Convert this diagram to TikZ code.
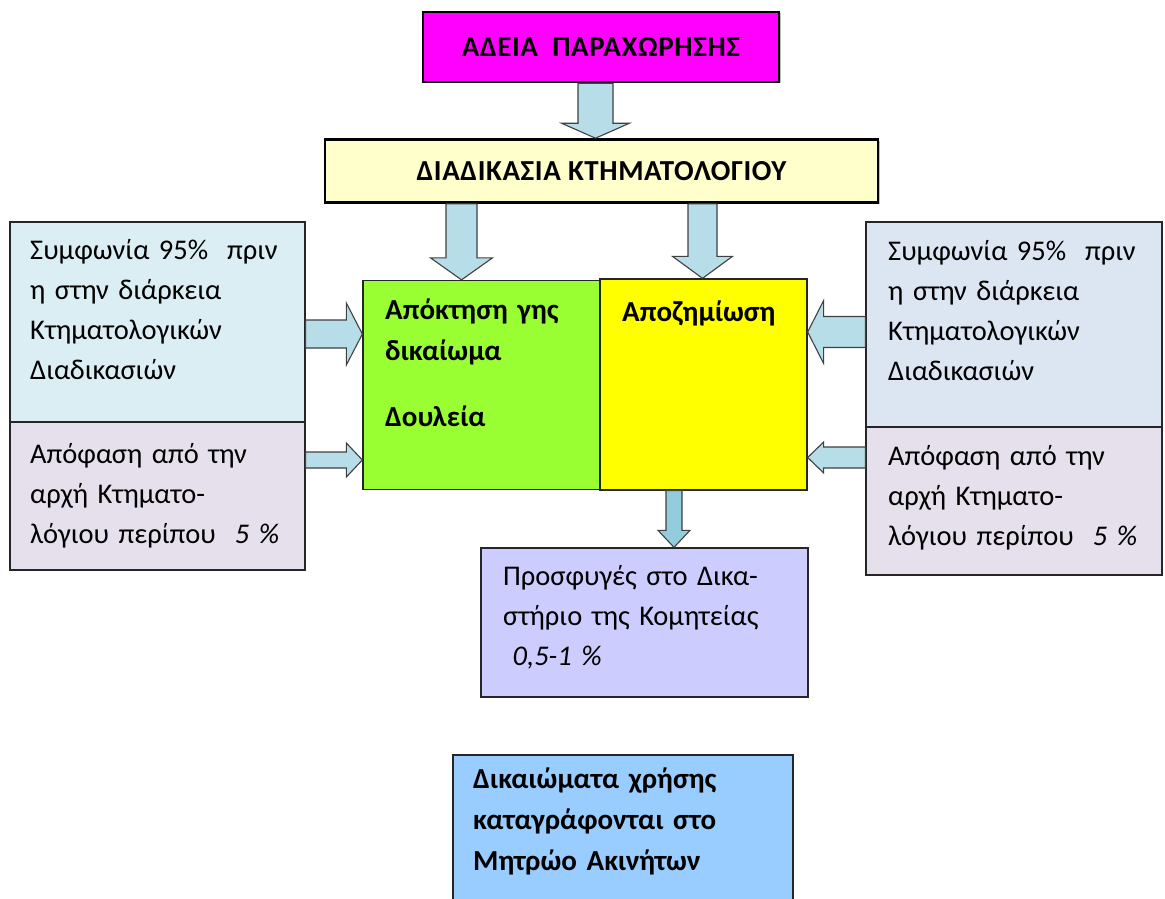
\documentclass[tikz,border=0pt]{standalone}
\usepackage{fontspec}
\setmainfont{Carlito}[WordSpace=0.7]
\newfontfamily\headfont{Carlito}[LetterSpace=2]
\usetikzlibrary{calc,shadows}

\definecolor{permitmag}{HTML}{FF00FF}
\definecolor{cadastreyel}{HTML}{FFFFCC}
\definecolor{acqgreen}{HTML}{99FF33}
\definecolor{compyel}{HTML}{FFFF00}
\definecolor{agreeblue}{HTML}{DAEEF3}
\definecolor{agreegray}{HTML}{DCE6F2}
\definecolor{decisionlav}{HTML}{E5E0EC}
\definecolor{appealblue}{HTML}{CCCCFF}
\definecolor{registryblue}{HTML}{99CCFF}
\definecolor{arrowblue}{HTML}{B7DDE8}
\definecolor{arrowdark}{HTML}{93CDDD}

% block arrow: [extra style]{start}{tip}{dir x}{dir y}{half shaft}{half head}{head length}
\newcommand{\blockarrow}[8][]{%
  \draw[blockarr,#1]
    ($(#2)+({-#6*(#5)},{#6*(#4)})$) --
    ($(#3)+({-#8*(#4)-#6*(#5)},{-#8*(#5)+#6*(#4)})$) --
    ($(#3)+({-#8*(#4)-#7*(#5)},{-#8*(#5)+#7*(#4)})$) --
    (#3) --
    ($(#3)+({-#8*(#4)+#7*(#5)},{-#8*(#5)-#7*(#4)})$) --
    ($(#3)+({-#8*(#4)+#6*(#5)},{-#8*(#5)-#6*(#4)})$) --
    ($(#2)+({#6*(#5)},{-#6*(#4)})$) -- cycle;}

\begin{document}
\begin{tikzpicture}[
    x=1pt, y=-1pt,
    box/.style={
        draw=black!85,
        line width=1.3pt,
        rectangle,
        inner sep=0pt
    },
    headbox/.style={
        box,
        line width=2.6pt,
        draw=black,
        drop shadow={shadow xshift=1.5pt, shadow yshift=-1.5pt, fill=black!50},
        font=\headfont\fontsize{29}{32}\selectfont\bfseries
    },
    boxtext/.style={
        anchor=base west,
        align=left,
        inner sep=0pt,
        text width=#1,
        font=\fontsize{28.5}{40}\selectfont
    },
    boldtext/.style={
        boxtext=#1,
        font=\fontsize{29}{41}\selectfont\bfseries
    },
    blockarr/.style={
        draw=black!75,
        line width=1.1pt,
        line join=miter,
        fill=arrowblue
    }
]
    \useasboundingbox (0,0) rectangle (1165,899);

    % Top boxes
    \node[headbox, fill=permitmag, minimum width=356, minimum height=70] (permit) at (601,47)
    {ΑΔΕΙΑ\ \ ΠΑΡΑΧΩΡΗΣΗΣ};

    \node[headbox, fill=cadastreyel, minimum width=553, minimum height=63] (cadastre) at (601.5,171)
    {ΔΙΑΔΙΚΑΣΙΑ ΚΤΗΜΑΤΟΛΟΓΙΟΥ};

    % Central box
    \node[box, fill=acqgreen, minimum width=237, minimum height=209] (acquire) at (481.5,385) {};
    \node[box, fill=compyel, minimum width=207, minimum height=211] (compens) at (703.5,384.5) {};

    \node[boldtext=220pt] (acquire-text) at (385,319)
    {Απόκτηση γης\\ δικαίωμα\\[25pt] Δουλεία};
    \node[boldtext=180pt] (compens-text) at (622,321) {Αποζημίωση};

    % Left side
    \node[box, fill=agreeblue, minimum width=295, minimum height=200] (agreeL) at (157.5,322) {};
    \node[box, fill=decisionlav, minimum width=295, minimum height=148] (decideL) at (157.5,496) {};

    \node[boxtext=270pt] (agreeL-text) at (30,259)
    {Συμφωνία 95\%\ \ πριν\\ η στην διάρκεια\\ Κτηματολογικών\\ Διαδικασιών};
    \node[boxtext=270pt] (decideL-text) at (30,463)
    {Απόφαση από την\\ αρχή Κτηματο-\\ λόγιου περίπου\ \ \textit{5 \%}};

    % Right side
    \node[box, fill=agreegray, minimum width=296, minimum height=205] (agreeR) at (1014,324.5) {};
    \node[box, fill=decisionlav, minimum width=296, minimum height=148] (decideR) at (1014,501) {};

    \node[boxtext=270pt] (agreeR-text) at (888,260)
    {Συμφωνία 95\%\ \ πριν\\ η στην διάρκεια\\ Κτηματολογικών\\ Διαδικασιών};
    \node[boxtext=270pt] (decideR-text) at (888,465)
    {Απόφαση από την\\ αρχή Κτηματο-\\ λόγιου περίπου\ \ \textit{5 \%}};

    % Bottom boxes
    \node[box, fill=appealblue, minimum width=327, minimum height=149] (appeal) at (644.5,622.5) {};
    \node[boxtext=300pt] (appeal-text) at (503,585)
    {Προσφυγές στο Δικα-\\ στήριο της Κομητείας\\ \ \textit{0,5-1 \%}};

    \node[box, fill=registryblue, minimum width=340, minimum height=150] (registry) at (623,830) {};
    \node[boldtext=300pt] (registry-text) at (473,788)
    {Δικαιώματα χρήσης\\ καταγράφονται στο\\ Μητρώο Ακινήτων};

    % Arrows
    \coordinate (a1) at ($(permit.south)+(-5.5,0)$);
    \coordinate (a2) at ($(cadastre.south)+(-140,0)$);
    \coordinate (a3) at ($(cadastre.south)+(101,0)$);
    \coordinate (a4) at ($(agreeL.east)+(0,12)$);
    \coordinate (a5) at ($(decideL.east)+(0,-36)$);
    \coordinate (a6) at ($(agreeR.west)+(0,7.5)$);
    \coordinate (a7) at ($(decideR.west)+(0,-43.5)$);
    \coordinate (a8) at ($(compens.south)+(-29.5,0)$);

    \blockarrow{a1}{a1 |- cadastre.north}{0}{1}{17.5}{34}{15}
    \blockarrow{a2}{a2 |- acquire.north}{0}{1}{15.5}{31}{22}
    \blockarrow{a3}{a3 |- compens.north}{0}{1}{14.5}{30}{22}
    \blockarrow{a4}{a4 -| acquire.west}{1}{0}{14}{31}{16}
    \blockarrow{a5}{a5 -| acquire.west}{1}{0}{8}{17}{16}
    \blockarrow{a6}{a6 -| compens.east}{-1}{0}{15.5}{31.5}{16}
    \blockarrow{a7}{a7 -| compens.east}{-1}{0}{10.5}{15.5}{16}
    \blockarrow[fill=arrowdark]{a8}{a8 |- appeal.north}{0}{1}{8}{16}{17}

\end{tikzpicture}
\end{document}
